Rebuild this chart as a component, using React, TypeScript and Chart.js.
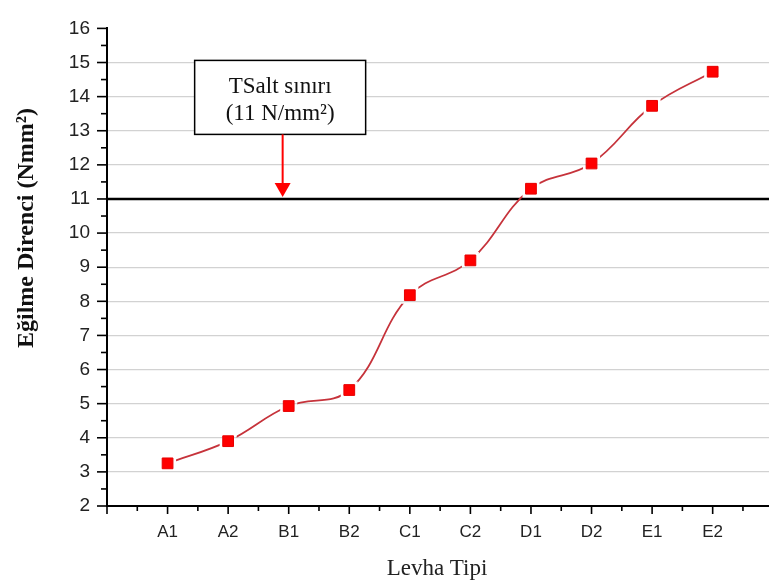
import React, { useEffect, useRef } from "react";
import { Chart, registerables } from "chart.js";

Chart.register(...registerables);

const categories = ["A1", "A2", "B1", "B2", "C1", "C2", "D1", "D2", "E1", "E2"];
const values = [3.25, 3.9, 4.93, 5.4, 8.18, 9.2, 11.3, 12.04, 13.73, 14.73];
const thresholdValue = 11;
const yMin = 2;
const yMax = 16;
const xMin = 0;
const xMax = 10.93;
const yTitle = "Eğilme Direnci (Nmm²)";
const xTitle = "Levha Tipi";
const annotationLines = ["TSalt sınırı", "(11 N/mm²)"];
const annotationX = 2.9;

const SERIF = '"Liberation Serif", "Times New Roman", serif';
const SANS = '"Liberation Sans", Arial, sans-serif';

const gapPlugin = {
  id: "lineGaps",
  beforeDatasetDraw(chart: any, args: any) {
    const ds = chart.data.datasets[args.index];
    if (ds.id !== "curve") return;
    const ctx = chart.ctx;
    const g = 8.5;
    ctx.save();
    ctx.beginPath();
    ctx.rect(0, 0, chart.width, chart.height);
    for (const el of args.meta.data) {
      ctx.rect(el.x - g, el.y - g, 2 * g, 2 * g);
    }
    ctx.clip("evenodd");
  },
  afterDatasetDraw(chart: any, args: any) {
    const ds = chart.data.datasets[args.index];
    if (ds.id !== "curve") return;
    chart.ctx.restore();
  },
};

const decorPlugin = {
  id: "decor",
  afterDraw(chart: any) {
    const ctx = chart.ctx;
    const ca = chart.chartArea;
    const xs = chart.scales.x;
    const ys = chart.scales.y;
    ctx.save();
    // ticks
    ctx.strokeStyle = "#000";
    ctx.lineWidth = 1.6;
    for (let v = yMin; v <= yMax + 1e-6; v += 0.5) {
      const y = ys.getPixelForValue(v);
      const len = Math.abs(v - Math.round(v)) < 1e-6 ? 10 : 6;
      ctx.beginPath();
      ctx.moveTo(ca.left, y);
      ctx.lineTo(ca.left - len, y);
      ctx.stroke();
    }
    for (let v = xMin; v <= xMax + 1e-6; v += 0.5) {
      const x = xs.getPixelForValue(v);
      const len = Math.abs(v - Math.round(v)) < 1e-6 ? 8 : 5;
      ctx.beginPath();
      ctx.moveTo(x, ca.bottom);
      ctx.lineTo(x, ca.bottom + len);
      ctx.stroke();
    }

    // category labels
    ctx.fillStyle = "#222";
    ctx.font = `17px ${SANS}`;
    ctx.textAlign = "center";
    ctx.textBaseline = "middle";
    categories.forEach((c, i) => {
      ctx.fillText(c, xs.getPixelForValue(i + 1), ca.bottom + 26);
    });

    // axis titles
    ctx.fillStyle = "#111";
    ctx.font = `bold 24px ${SERIF}`;
    ctx.textAlign = "center";
    ctx.textBaseline = "alphabetic";
    ctx.save();
    ctx.translate(33, 228);
    ctx.rotate(-Math.PI / 2);
    ctx.fillText(yTitle, 0, 0);
    ctx.restore();

    ctx.font = `23px ${SERIF}`;
    ctx.fillStyle = "#222";
    ctx.fillText(xTitle, 437, 575);

    // annotation
    const ax = xs.getPixelForValue(annotationX);
    const tipY = ys.getPixelForValue(thresholdValue) - 2;
    const bx = ax - 88;
    const by = ca.top + 32;
    const bw = 171;
    const bh = 74;
    ctx.fillStyle = "#fff";
    ctx.fillRect(bx, by, bw, bh);
    ctx.strokeStyle = "#000";
    ctx.lineWidth = 1.5;
    ctx.strokeRect(bx, by, bw, bh);
    ctx.fillStyle = "#111";
    ctx.font = `23px ${SERIF}`;
    ctx.textAlign = "center";
    ctx.fillText(annotationLines[0], bx + bw / 2, by + 33);
    ctx.fillText(annotationLines[1], bx + bw / 2, by + 60);

    ctx.strokeStyle = "#ff0000";
    ctx.fillStyle = "#ff0000";
    ctx.lineWidth = 2;
    ctx.beginPath();
    ctx.moveTo(ax, by + bh);
    ctx.lineTo(ax, tipY - 13);
    ctx.stroke();
    ctx.beginPath();
    ctx.moveTo(ax - 8, tipY - 14);
    ctx.lineTo(ax + 8, tipY - 14);
    ctx.lineTo(ax, tipY);
    ctx.closePath();
    ctx.fill();
    ctx.restore();
  },
};

export default function App() {
  const ref = useRef<HTMLCanvasElement | null>(null);

  useEffect(() => {
    if (!ref.current) return;
    const points = categories.map((c, i) => ({ x: i + 1, y: values[i] }));
    const chart = new Chart(ref.current, {
      type: "line",
      data: {
        datasets: [
          {
            label: "markers",
            data: points,
            showLine: false,
            pointStyle: "rect",
            pointRadius: 7.6,
            pointBackgroundColor: "#ff0000",
            pointBorderColor: "#e60000",
            pointBorderWidth: 1,
            order: 0,
          } as any,
          {
            id: "curve",
            label: "curve",
            data: points,
            borderColor: "#c6333b",
            borderWidth: 1.8,
            pointRadius: 0,
            tension: 0.4,
            fill: false,
            order: 1,
          } as any,
          {
            label: "threshold",
            data: [
              { x: xMin, y: thresholdValue },
              { x: xMax, y: thresholdValue },
            ],
            borderColor: "#000",
            borderWidth: 2.6,
            pointRadius: 0,
            fill: false,
            order: 2,
          } as any,
        ],
      },
      options: {
        animation: false,
        responsive: false,
        events: [],
        layout: { autoPadding: false, padding: { top: 15, left: 0, right: 0, bottom: 0 } },
        plugins: { legend: { display: false }, tooltip: { enabled: false } },
        scales: {
          x: {
            type: "linear",
            min: xMin,
            max: xMax,
            afterFit: (s: any) => {
              s.height = 81;
              s.paddingLeft = 0;
              s.paddingRight = 0;
            },
            grid: { display: false, drawTicks: false },
            border: { display: true, color: "#000", width: 2 },
            ticks: { display: false, stepSize: 1 },
          },
          y: {
            type: "linear",
            min: yMin,
            max: yMax,
            afterFit: (s: any) => {
              s.width = 107;
            },
            grid: {
              drawTicks: false,
              color: (c: any) =>
                c.tick && (c.tick.value === yMax || c.tick.value === yMin)
                  ? "rgba(0,0,0,0)"
                  : "#d2d2d2",
              lineWidth: 1.2,
            },
            border: { display: true, color: "#000", width: 2 },
            ticks: {
              stepSize: 1,
              padding: 17,
              color: "#222",
              font: { family: SANS, size: 19 },
            },
          },
        },
      },
      plugins: [gapPlugin, decorPlugin],
    });
    return () => chart.destroy();
  }, []);

  return (
    <div style={{ position: "fixed", left: 0, top: 0, width: 769, height: 587, background: "#fff" }}>
      <canvas ref={ref} width={769} height={587} />
    </div>
  );
}
